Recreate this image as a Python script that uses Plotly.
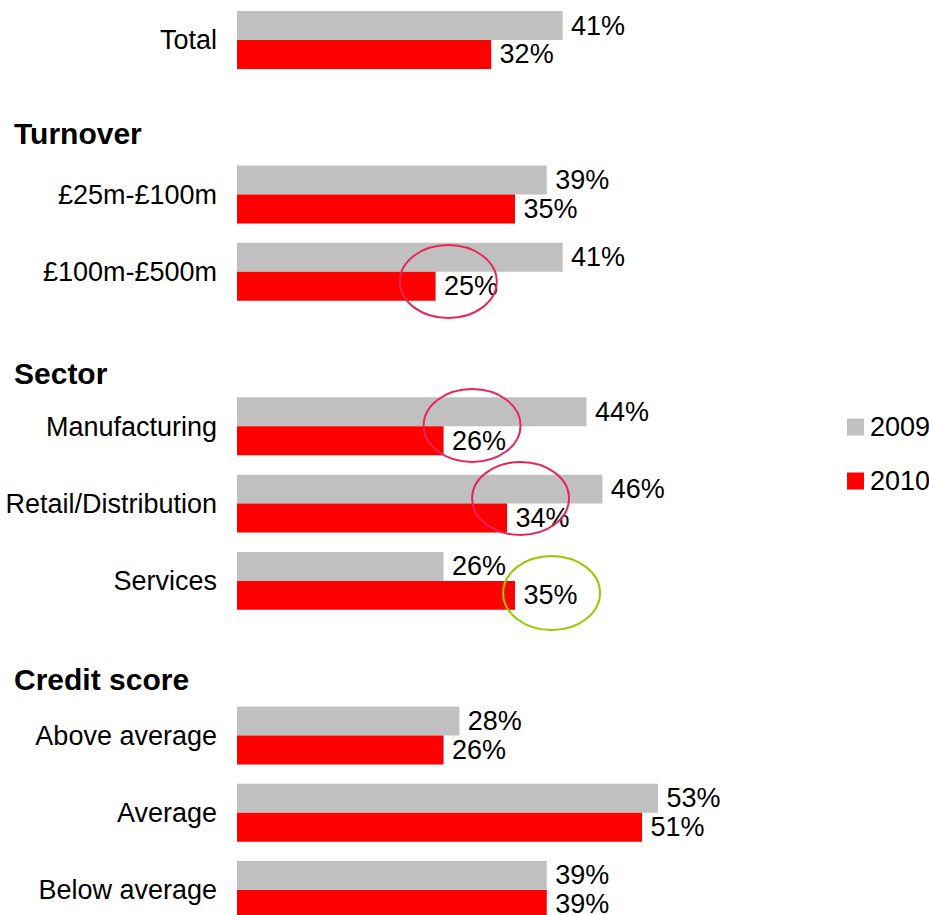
import plotly.graph_objects as go

# Row labels (top to bottom) and the slot each occupies; empty slots hold section headers
categories = ["Total", "£25m-£100m", "£100m-£500m", "Manufacturing",
              "Retail/Distribution", "Services", "Above average", "Average",
              "Below average"]
slots = [0, 2, 3, 5, 6, 7, 9, 10, 11]
values_2009 = [41, 39, 41, 44, 46, 26, 28, 53, 39]
values_2010 = [32, 35, 25, 26, 34, 35, 26, 51, 39]

headers = ["Turnover", "Sector", "Credit score"]
header_slots = [1.21, 4.31, 8.28]

GREY = "#C0C0C0"
RED = "#FF0000"
FONT = "Liberation Sans, Arial, sans-serif"
SIZE = 27

fig = go.Figure()
bar_w = 0.375
for name, vals, color, off in [("2009", values_2009, GREY, -bar_w),
                               ("2010", values_2010, RED, 0.0)]:
    fig.add_trace(go.Bar(
        x=vals, y=slots, orientation="h", name=name,
        marker=dict(color=color, line=dict(width=0)),
        width=bar_w, offset=off,
        text=[f"\u2009{v}%" for v in vals], textposition="outside",
        textfont=dict(family=FONT, size=SIZE, color="black"),
        constraintext="none", cliponaxis=False, showlegend=False,
        hoverinfo="skip",
    ))

# Section headers
for h, s in zip(headers, header_slots):
    fig.add_annotation(text=f"<b>{h}</b>", xref="paper", x=0, xanchor="left",
                       xshift=-225, yref="y", y=s, yanchor="middle",
                       showarrow=False,
                       font=dict(family=FONT, size=30, color="black"))

# Highlight ellipses around notable 2010 values
ellipses = [
    (20.5, 32.7, 2.653, 3.598, "#E8255A"),
    (23.5, 35.7, 4.517, 5.461, "#E8255A"),
    (29.6, 41.8, 5.461, 6.406, "#E8255A"),
    (33.5, 45.7, 6.678, 7.636, "#99C800"),
]
for x0, x1, y0, y1, c in ellipses:
    fig.add_shape(type="circle", xref="x", yref="y", x0=x0, x1=x1, y0=y0, y1=y1,
                  line=dict(color=c, width=2), fillcolor="rgba(0,0,0,0)")

# Legend: coloured squares with year labels
plot_left, plot_w = 237, 596
plot_h = 915
for label, color, cy in [("2009", GREY, 427), ("2010", RED, 481)]:
    fig.add_shape(type="rect", xref="paper", yref="paper",
                  x0=(847 - plot_left) / plot_w, x1=(864 - plot_left) / plot_w,
                  y0=1 - (cy + 8.5) / plot_h, y1=1 - (cy - 8.5) / plot_h,
                  fillcolor=color, line=dict(width=0))
    fig.add_annotation(text=label, xref="paper", yref="paper",
                       x=(868 - plot_left) / plot_w, xanchor="left",
                       y=1 - cy / plot_h, yanchor="middle", showarrow=False,
                       font=dict(family=FONT, size=SIZE, color="black"))

pitch = 77.27
fig.update_layout(
    width=929, height=915,
    margin=dict(l=plot_left, r=929 - plot_left - plot_w, t=0, b=0),
    paper_bgcolor="white", plot_bgcolor="white",
    barmode="overlay",
    xaxis=dict(range=[0, plot_w / 7.943], visible=False, fixedrange=True),
    yaxis=dict(range=[(915 - 40) / pitch, -40 / pitch],
               tickvals=slots, ticktext=categories, ticks="",
               ticklabelstandoff=19, showgrid=False, zeroline=False,
               showline=False,
               tickfont=dict(family=FONT, size=SIZE, color="black")),
    font=dict(family=FONT),
)

fig.write_html("out.html")
